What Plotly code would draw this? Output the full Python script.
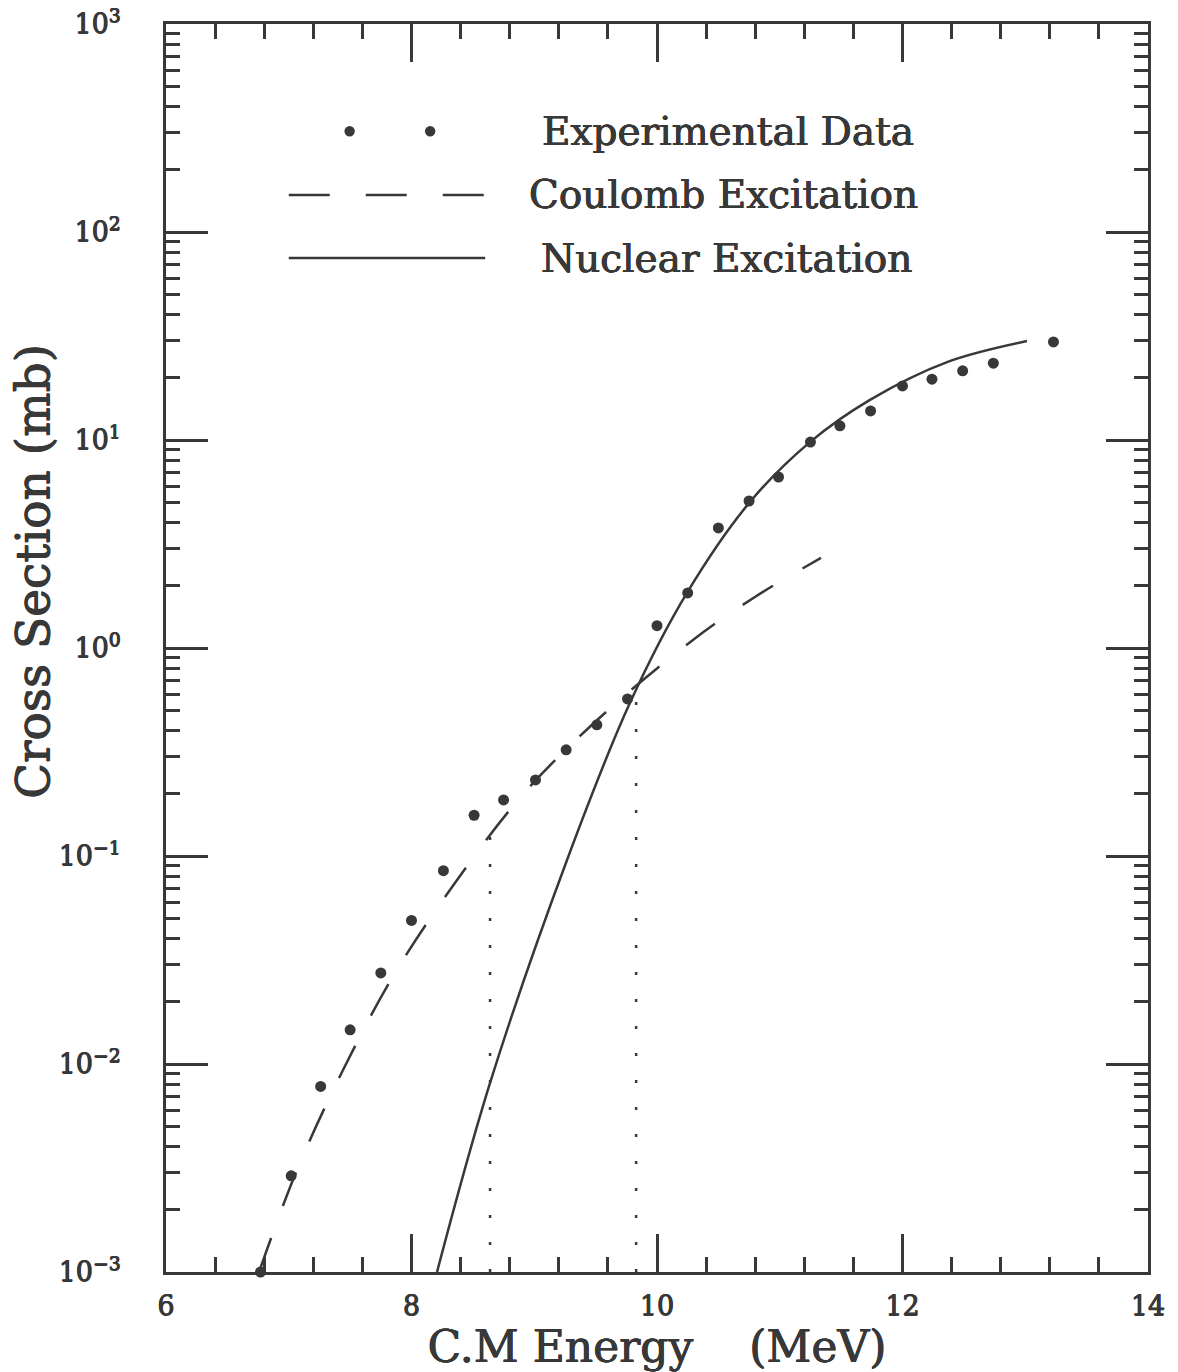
import plotly.graph_objects as go

# Measured excitation cross sections (C.M. energy in MeV, sigma in mb)
energy_exp = [6.77, 7.02, 7.26, 7.50, 7.75, 8.00, 8.26, 8.51, 8.75, 9.01, 9.26, 9.51, 9.76,
              10.00, 10.25, 10.50, 10.75, 10.99, 11.25, 11.49, 11.74, 12.00, 12.24, 12.49, 12.74, 13.23]
sigma_exp = [0.0010, 0.0029, 0.0078, 0.0146, 0.0274, 0.049, 0.085, 0.157, 0.186, 0.232, 0.324, 0.427, 0.569,
             1.28, 1.84, 3.78, 5.09, 6.64, 9.77, 11.7, 13.8, 18.2, 19.6, 21.5, 23.4, 29.6]

# Coulomb excitation calculation
energy_coul = [6.758, 7.067, 7.442, 7.866, 8.371, 8.925, 9.576, 10.293, 10.798, 11.336]
sigma_coul = [0.00100, 0.00309, 0.00935, 0.0274, 0.0767, 0.203, 0.487, 1.093, 1.76, 2.71]

# Nuclear excitation calculation
energy_nuc = [8.208, 8.640, 9.267, 9.780, 10.244, 10.758, 11.246, 11.735, 12.363, 13.014]
sigma_nuc = [0.00100, 0.00811, 0.0957, 0.545, 1.84, 5.04, 9.77, 15.6, 23.7, 29.9]

# Vertical markers dropped from the curves to the energy axis
marker_energy = [8.64, 9.83]
marker_top = [0.145, 0.58]

# Decade tick labels of the cross-section axis
y_tickvals = [1e-3, 1e-2, 1e-1, 1e0, 1e1, 1e2, 1e3]
y_ticktext = ["10<sup>−3</sup>", "10<sup>−2</sup>", "10<sup>−1</sup>", "10<sup>0</sup>",
              "10<sup>1</sup>", "10<sup>2</sup>", "10<sup>3</sup>"]

ink = "#383838"
font_family = "DejaVu Serif"
# slight outline to give the plotter-style lettering a heavier stroke
heavy = "0.45px 0 0 #383838, -0.45px 0 0 #383838, 0 0.45px 0 #383838"


def text_font(size):
    return dict(family=font_family, size=size, color=ink, shadow=heavy)


fig = go.Figure()

for xm, ym in zip(marker_energy, marker_top):
    fig.add_trace(go.Scatter(x=[xm, xm], y=[1e-3, ym], mode="lines",
                             line=dict(color=ink, width=2.5, dash="3px,24px"),
                             showlegend=False, hoverinfo="skip"))

fig.add_trace(go.Scatter(x=energy_coul, y=sigma_coul, mode="lines", line_shape="spline",
                         line=dict(color=ink, width=2.5, dash="36px,34px"),
                         name="Coulomb Excitation", showlegend=False))
fig.add_trace(go.Scatter(x=energy_nuc, y=sigma_nuc, mode="lines", line_shape="spline",
                         line=dict(color=ink, width=2.5),
                         name="Nuclear Excitation", showlegend=False))
fig.add_trace(go.Scatter(x=energy_exp, y=sigma_exp, mode="markers",
                         marker=dict(color=ink, size=11),
                         name="Experimental Data", showlegend=False, cliponaxis=False))

# Hand-drawn key in the upper left of the frame
legend_labels = ["Experimental Data", "Coulomb Excitation", "Nuclear Excitation"]
legend_y = [0.914, 0.863, 0.8125]
legend_text_x = [0.572, 0.568, 0.571]
sample_x0, sample_x1 = 0.125, 0.325

for cx in [0.187, 0.269]:
    fig.add_shape(type="circle", xref="paper", yref="paper",
                  x0=cx - 0.0053, x1=cx + 0.0053, y0=legend_y[0] - 0.0042, y1=legend_y[0] + 0.0042,
                  fillcolor=ink, line=dict(width=0))
fig.add_shape(type="line", xref="paper", yref="paper", x0=sample_x0, x1=sample_x1,
              y0=legend_y[1], y1=legend_y[1], line=dict(color=ink, width=2.5, dash="41px,36px"))
fig.add_shape(type="line", xref="paper", yref="paper", x0=sample_x0, x1=sample_x1,
              y0=legend_y[2], y1=legend_y[2], line=dict(color=ink, width=2.5))
for label, lx, ly in zip(legend_labels, legend_text_x, legend_y):
    fig.add_annotation(text=label, xref="paper", yref="paper", x=lx, y=ly,
                       showarrow=False, xanchor="center", yanchor="middle",
                       font=text_font(39))

# Vertical axis title, set a little above the frame's midpoint
fig.add_annotation(text="Cross Section (mb)", xref="paper", yref="paper", x=-0.1354, y=0.561,
                   textangle=-90, showarrow=False, xanchor="center", yanchor="middle",
                   font=text_font(47))

axis_common = dict(showline=True, linecolor=ink, linewidth=2.5, mirror="allticks",
                   ticks="inside", tickcolor=ink, tickwidth=2.5, showgrid=False, zeroline=False,
                   automargin=False, tickfont=text_font(27))

fig.update_xaxes(range=[6, 14], tick0=6, dtick=2, ticklen=38,
                 minor=dict(dtick=0.4, ticks="inside", ticklen=15, tickcolor=ink, tickwidth=2.5, showgrid=False),
                 ticklabelstandoff=8,
                 title=dict(text="C.M Energy &nbsp;&nbsp;&nbsp;(MeV)", standoff=4, font=text_font(44)),
                 **axis_common)
fig.update_yaxes(type="log", range=[-3, 3], tickvals=y_tickvals, ticktext=y_ticktext, ticklen=42,
                 minor=dict(dtick="D1", ticks="inside", ticklen=14, tickcolor=ink, tickwidth=2.5, showgrid=False),
                 ticklabelstandoff=37,
                 **axis_common)

fig.update_layout(width=1178, height=1372, margin=dict(l=166, r=30, t=24, b=100),
                  paper_bgcolor="white", plot_bgcolor="white", showlegend=False)

fig.write_html("out.html")
